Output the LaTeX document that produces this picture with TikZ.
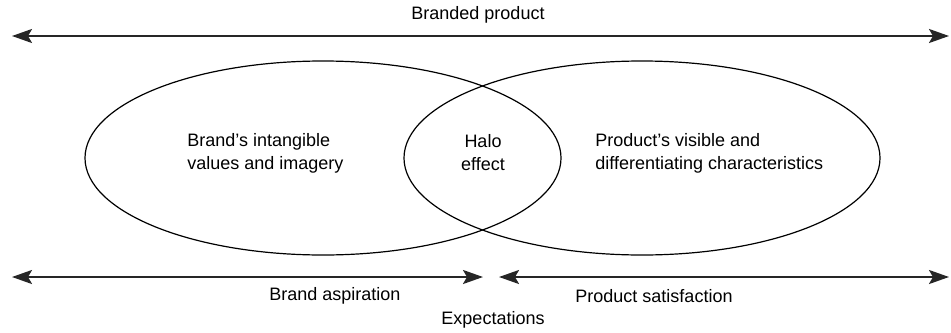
\documentclass[tikz,border=0pt]{standalone}
\usepackage{fontspec}
\setmainfont{Liberation Sans}
\usetikzlibrary{arrows.meta}

\begin{document}
\begin{tikzpicture}[x=0.5pt, y=-0.5pt,
		lbl/.style={font=\fontsize{9}{11.5}\selectfont, inner sep=0pt, align=left},
		span/.style={{Stealth[length=10pt, width=7pt, inset=2pt]}-{Stealth[length=10pt, width=7pt, inset=2pt]}, line width=1.1pt, draw=black!85}]
			\def\rx{119pt};
			\def\ry{48.5pt};
			
			\useasboundingbox (0,0) rectangle (951,332);
			
			% the two circles of the brand
			\draw[line width=0.6pt] (323,158) ellipse [x radius=\rx, y radius=\ry];
			\draw[line width=0.6pt] (642,158) ellipse [x radius=\rx, y radius=\ry];
			
			\node[lbl, anchor=west] (intangible) at (187,153) {Brand’s intangible\\values and imagery};
			\node[lbl, align=center] (halo) at (483,153) {Halo\\effect};
			\node[lbl, anchor=west] (visible) at (595,153) {Product’s visible and\\differentiating characteristics};
			
			% top span
			\coordinate (bp-l) at (12,36);
			\coordinate (bp-r) at (949,36);
			\draw[span] (bp-l) -- (bp-r);
			\node[lbl] (branded) at (478,15) {Branded product};
			
			% bottom spans
			\coordinate (ba-l) at (12,277);
			\coordinate (ba-r) at (483,277);
			\coordinate (ps-l) at (499,277);
			\coordinate (ps-r) at (949,277);
			\draw[span] (ba-l) -- (ba-r);
			\draw[span] (ps-l) -- (ps-r);
			\node[lbl] (aspiration) at (335,296) {Brand aspiration};
			\node[lbl] (satisfaction) at (654,296) {Product satisfaction};
			\node[lbl] (expect) at (493,320) {Expectations};
		\end{tikzpicture}
\end{document}
